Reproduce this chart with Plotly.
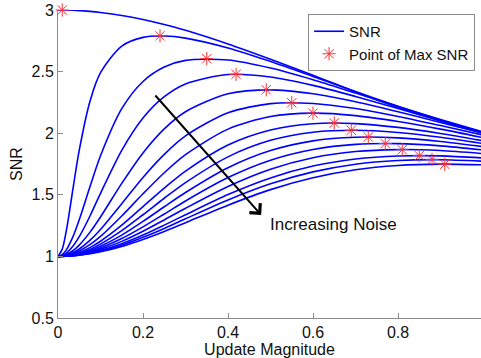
import plotly.graph_objects as go

# x positions (update magnitude) where the curves were read
update_magnitude = [0, 0.01, 0.02, 0.035, 0.05, 0.075, 0.1, 0.15, 0.2, 0.25,
                    0.3, 0.4, 0.5, 0.6, 0.7, 0.8, 0.9, 1.0]

# SNR curves, from lowest noise (top) to highest noise (bottom)
snr_noise_01 = [3.0, 3.0, 3.0, 2.998, 2.995, 2.989, 2.980, 2.956, 2.923, 2.882, 2.835, 2.724, 2.600, 2.471, 2.335, 2.210, 2.100, 2.0]
snr_noise_02 = [1.0, 1.059, 1.217, 1.543, 1.862, 2.256, 2.491, 2.707, 2.778, 2.789, 2.772, 2.692, 2.582, 2.461, 2.338, 2.218, 2.105, 2.002]
snr_noise_03 = [1.0, 1.014, 1.055, 1.158, 1.298, 1.563, 1.817, 2.199, 2.420, 2.537, 2.591, 2.594, 2.529, 2.434, 2.326, 2.217, 2.111, 2.011]
snr_noise_04 = [1.0, 1.007, 1.028, 1.082, 1.160, 1.326, 1.512, 1.861, 2.123, 2.296, 2.400, 2.476, 2.456, 2.388, 2.298, 2.200, 2.102, 2.007]
snr_noise_05 = [1.0, 1.004, 1.015, 1.046, 1.092, 1.195, 1.320, 1.593, 1.840, 2.035, 2.174, 2.320, 2.352, 2.320, 2.255, 2.174, 2.087, 2.001]
snr_noise_06 = [1.0, 1.002, 1.010, 1.030, 1.060, 1.130, 1.219, 1.428, 1.641, 1.828, 1.978, 2.166, 2.240, 2.241, 2.200, 2.136, 2.062, 1.985]
snr_noise_07 = [1.0, 1.002, 1.007, 1.022, 1.044, 1.095, 1.162, 1.328, 1.508, 1.679, 1.826, 2.033, 2.135, 2.163, 2.143, 2.095, 2.033, 1.964]
snr_noise_08 = [1.0, 1.001, 1.005, 1.016, 1.032, 1.071, 1.123, 1.253, 1.404, 1.554, 1.692, 1.904, 2.026, 2.077, 2.078, 2.047, 1.998, 1.939]
snr_noise_09 = [1.0, 1.001, 1.004, 1.013, 1.026, 1.057, 1.100, 1.209, 1.338, 1.472, 1.599, 1.808, 1.942, 2.008, 2.024, 2.006, 1.967, 1.916]
snr_noise_10 = [1.0, 1.001, 1.003, 1.010, 1.021, 1.047, 1.082, 1.173, 1.284, 1.403, 1.519, 1.720, 1.859, 1.938, 1.967, 1.962, 1.933, 1.891]
snr_noise_11 = [1.0, 1.001, 1.003, 1.009, 1.017, 1.039, 1.068, 1.145, 1.240, 1.344, 1.450, 1.640, 1.781, 1.868, 1.909, 1.915, 1.897, 1.864]
snr_noise_12 = [1.0, 1.001, 1.002, 1.007, 1.015, 1.032, 1.057, 1.122, 1.204, 1.296, 1.391, 1.568, 1.708, 1.801, 1.851, 1.867, 1.859, 1.834]
snr_noise_13 = [1.0, 1.000, 1.002, 1.006, 1.012, 1.027, 1.048, 1.103, 1.173, 1.254, 1.338, 1.502, 1.637, 1.733, 1.790, 1.815, 1.816, 1.799]
snr_noise_14 = [1.0, 1.000, 1.002, 1.005, 1.011, 1.024, 1.042, 1.091, 1.155, 1.227, 1.305, 1.458, 1.589, 1.686, 1.748, 1.778, 1.785, 1.773]
snr_noise_15 = [1.0, 1.000, 1.002, 1.005, 1.009, 1.021, 1.037, 1.081, 1.138, 1.203, 1.274, 1.416, 1.542, 1.638, 1.703, 1.738, 1.749, 1.743]

snr_curves = [snr_noise_01, snr_noise_02, snr_noise_03, snr_noise_04, snr_noise_05,
              snr_noise_06, snr_noise_07, snr_noise_08, snr_noise_09, snr_noise_10,
              snr_noise_11, snr_noise_12, snr_noise_13, snr_noise_14, snr_noise_15]

# points of maximum SNR for each curve
max_snr_x = [0.01, 0.24, 0.35, 0.419, 0.49, 0.55, 0.60, 0.65, 0.69, 0.73, 0.77, 0.81, 0.85, 0.88, 0.91]
max_snr_y = [3.0, 2.79, 2.605, 2.478, 2.352, 2.247, 2.163, 2.083, 2.024, 1.969, 1.916, 1.866, 1.818, 1.787, 1.748]

x_tick_vals = [0, 0.2, 0.4, 0.6, 0.8, 1.0]
x_tick_text = ["0", "0.2", "0.4", "0.6", "0.8", "1"]
y_tick_vals = [0.5, 1, 1.5, 2, 2.5, 3]
y_tick_text = ["0.5", "1", "1.5", "2", "2.5", "3"]

FONT = "Liberation Sans, Arial, sans-serif"

fig = go.Figure()
for i, ys in enumerate(snr_curves):
    fig.add_trace(go.Scatter(
        x=update_magnitude, y=ys, mode="lines",
        line=dict(color="#0000ff", width=1.6, shape="spline", smoothing=0.8),
        name="SNR", showlegend=(i == 0), cliponaxis=False, hoverinfo="skip"))

fig.add_trace(go.Scatter(
    x=max_snr_x, y=max_snr_y, mode="markers", name="Point of Max SNR",
    marker=dict(symbol="asterisk-open", size=11, color="#ff3030",
                line=dict(color="#ff3a3a", width=1)),
    cliponaxis=False))

fig.add_annotation(
    x=0.478, y=1.336, ax=0.226, ay=2.318, xref="x", yref="y", axref="x", ayref="y",
    showarrow=True, arrowhead=4, arrowsize=1.4, arrowwidth=2, arrowcolor="#000000", text="")
fig.add_annotation(
    x=0.494, y=1.255, xref="x", yref="y", text="Increasing Noise", showarrow=False,
    xanchor="left", yanchor="middle", font=dict(family=FONT, size=17, color="#111111"))

axis_common = dict(showgrid=False, zeroline=False, showline=True, linecolor="#8c8c8c",
                   linewidth=1, ticks="inside", ticklen=5, tickcolor="#8c8c8c",
                   tickfont=dict(family=FONT, size=16, color="#111111"))

fig.update_layout(
    width=481, height=358,
    margin=dict(l=58, r=0, t=10, b=40, pad=0),
    paper_bgcolor="white", plot_bgcolor="white",
    font=dict(family=FONT, size=16, color="#111111"),
    xaxis=dict(range=[0, 0.9953], tickvals=x_tick_vals, ticktext=x_tick_text,
               title=dict(text="Update Magnitude", font=dict(family=FONT, size=16), standoff=1),
               **axis_common),
    yaxis=dict(range=[0.5, 3], tickvals=y_tick_vals, ticktext=y_tick_text,
               title=dict(text="SNR", font=dict(family=FONT, size=16), standoff=4),
               **axis_common),
    legend=dict(x=0.986, y=0.987, xanchor="right", yanchor="top",
                bgcolor="white", bordercolor="#8c8c8c", borderwidth=1,
                font=dict(family=FONT, size=15, color="#111111"),
                tracegroupgap=0, itemwidth=30),
    showlegend=True,
)

fig.write_html("out.html")
